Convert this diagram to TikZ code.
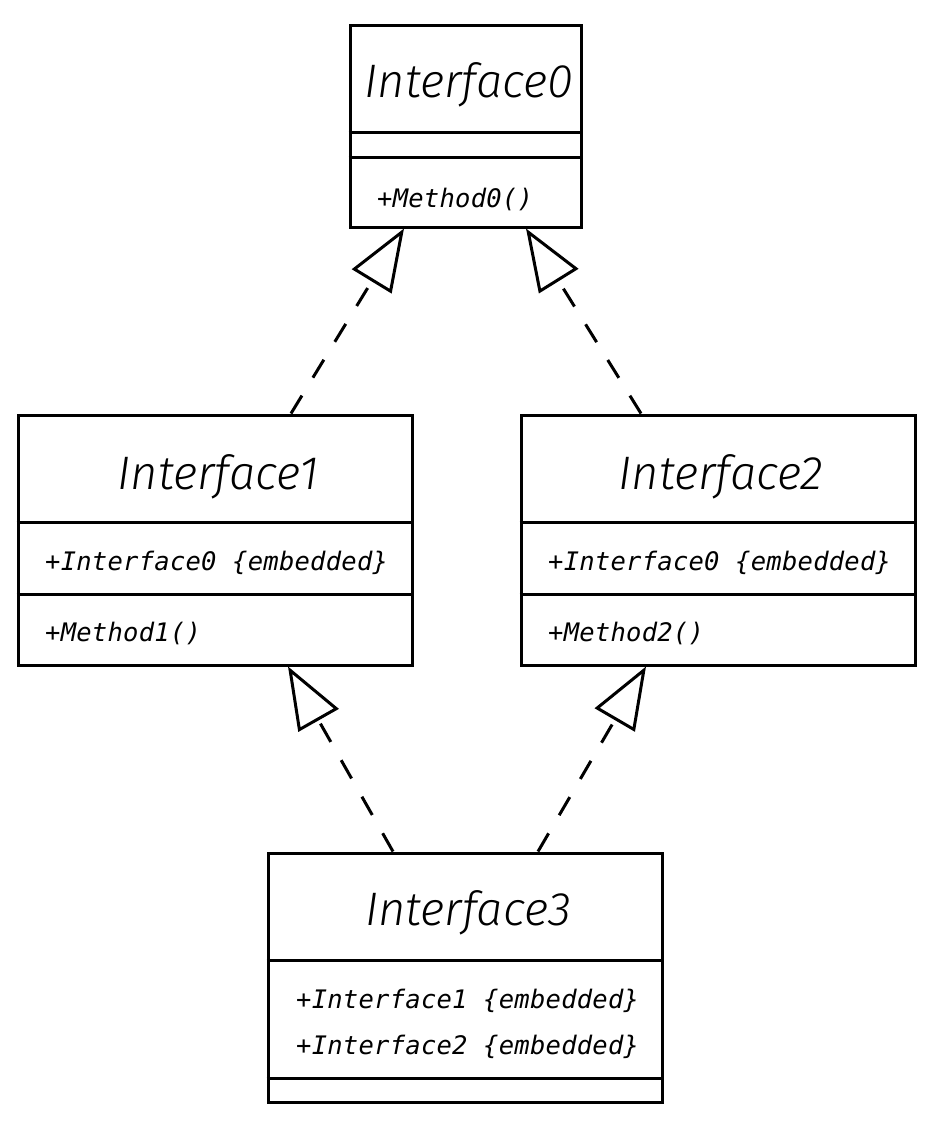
\documentclass[tikz,border=0pt]{standalone}
\usepackage{fontspec}
\usetikzlibrary{arrows.meta}
\newfontfamily\titlefont{Fira Sans Light Italic}
\newfontfamily\memberfont[LetterSpace=1]{DejaVu Sans Mono Oblique}
\tikzset{
  classbox/.style={draw, line width=3pt, inner sep=0pt, fill=white},
  divider/.style={line width=3pt},
  titletext/.style={font=\titlefont\fontsize{47}{50}\selectfont, anchor=base, inner sep=0pt},
  membertext/.style={font=\memberfont\fontsize{25.5}{28}\selectfont, anchor=base west, inner sep=0pt},
  realize/.style={line width=3pt, dash pattern=on 21pt off 21pt,
    -{Triangle[open, length=62pt, width=46pt, line join=miter]}}
}
\begin{document}
\begin{tikzpicture}[x=1pt,y=-1pt]
\useasboundingbox (0,0) rectangle (946,1135);
% class boxes
\node[classbox, minimum width=231pt, minimum height=202pt] (i0) at (465.5,126) {};
\node[classbox, minimum width=394pt, minimum height=250pt] (i1) at (215,540) {};
\node[classbox, minimum width=394pt, minimum height=250pt] (i2) at (718,540) {};
\node[classbox, minimum width=394pt, minimum height=249pt] (i3) at (465,977.5) {};
% dividers
\draw[divider] (i0.west |- 0,132) -- (i0.east |- 0,132);
\draw[divider] (i0.west |- 0,157) -- (i0.east |- 0,157);
\draw[divider] (i1.west |- 0,522) -- (i1.east |- 0,522);
\draw[divider] (i1.west |- 0,594) -- (i1.east |- 0,594);
\draw[divider] (i2.west |- 0,522) -- (i2.east |- 0,522);
\draw[divider] (i2.west |- 0,594) -- (i2.east |- 0,594);
\draw[divider] (i3.west |- 0,960) -- (i3.east |- 0,960);
\draw[divider] (i3.west |- 0,1078) -- (i3.east |- 0,1078);
% titles
\node[titletext] (t0) at (469,97) {Interface0};
\node[titletext] (t1) at (218,489) {Interface1};
\node[titletext] (t2) at (721,489) {Interface2};
\node[titletext] (t3) at (468,925) {Interface3};
% members
\node[membertext] (m0) at (377,207) {+Method0()};
\node[membertext] (a1) at (45,570) {+Interface0 \{embedded\}};
\node[membertext] (m1) at (45,641) {+Method1()};
\node[membertext] (a2) at (548,570) {+Interface0 \{embedded\}};
\node[membertext] (m2) at (548,641) {+Method2()};
\node[membertext] (a31) at (296,1008) {+Interface1 \{embedded\}};
\node[membertext] (a32) at (296,1054) {+Interface2 \{embedded\}};
% realizations
\draw[realize] ([xshift=76pt]i1.north) -- ([xshift=-61.5pt]i0.south);
\draw[realize] ([xshift=-77pt]i2.north) -- ([xshift=60.5pt]i0.south);
\draw[realize] ([xshift=-72pt]i3.north) -- ([xshift=73pt]i1.south);
\draw[realize] ([xshift=73pt]i3.north) -- ([xshift=-72pt]i2.south);
\end{tikzpicture}
\end{document}
